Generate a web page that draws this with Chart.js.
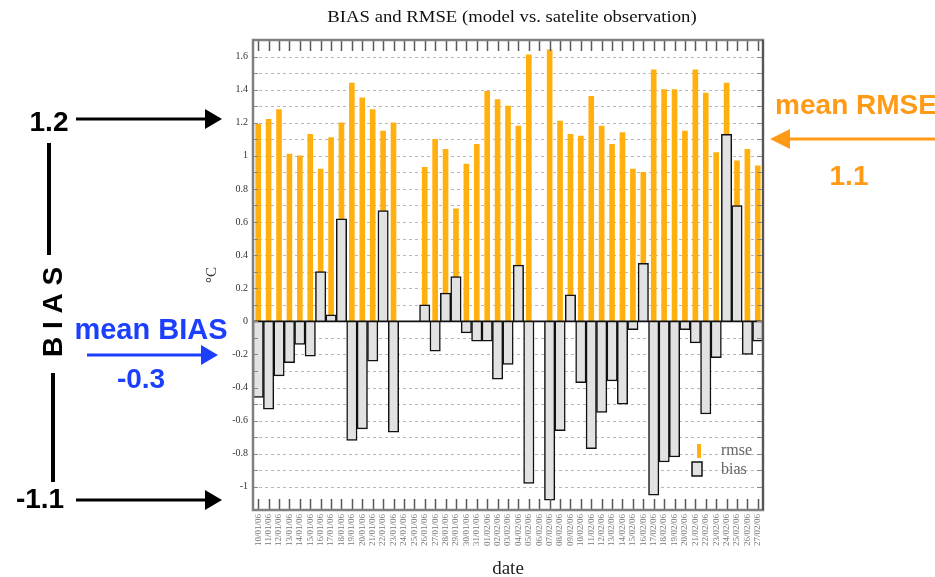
<!DOCTYPE html>
<html><head><meta charset="utf-8">
<script src="https://cdn.jsdelivr.net/npm/chart.js@4.4.0/dist/chart.umd.min.js"></script>
<style>html,body{margin:0;padding:0;background:#fff;}canvas{display:block;}</style>
</head><body>
<canvas id="c" width="935" height="577"></canvas>
<script>
// ---- data ----
const dates = [
 "10/01/06","11/01/06","12/01/06","13/01/06","14/01/06","15/01/06","16/01/06","17/01/06","18/01/06","19/01/06",
 "20/01/06","21/01/06","22/01/06","23/01/06","24/01/06","25/01/06","26/01/06","27/01/06","28/01/06","29/01/06",
 "30/01/06","31/01/06","01/02/06","02/02/06","03/02/06","04/02/06","05/02/06","06/02/06","07/02/06","08/02/06",
 "09/02/06","10/02/06","11/02/06","12/02/06","13/02/06","14/02/06","15/02/06","16/02/06","17/02/06","18/02/06",
 "19/02/06","20/02/06","21/02/06","22/02/06","23/02/06","24/02/06","25/02/06","26/02/06","27/02/06"];
const rmse = [1.19,1.22,1.28,1.01,1.00,1.13,0.92,1.11,1.20,1.44,1.35,1.28,1.15,1.20,null,null,
 0.93,1.10,1.04,0.68,0.95,1.07,1.39,1.34,1.30,1.18,1.61,null,1.64,1.21,1.13,1.12,1.36,1.18,1.07,1.14,
 0.92,0.90,1.52,1.40,1.40,1.15,1.52,1.38,1.02,1.44,0.97,1.04,0.94];
const bias = [-0.46,-0.53,-0.33,-0.25,-0.14,-0.21,0.30,0.04,0.62,-0.72,-0.65,-0.24,0.67,-0.67,null,null,
 0.10,-0.18,0.17,0.27,-0.07,-0.12,-0.12,-0.35,-0.26,0.34,-0.98,null,-1.08,-0.66,0.16,-0.37,-0.77,-0.55,-0.36,-0.50,
 -0.05,0.35,-1.05,-0.85,-0.82,-0.05,-0.13,-0.56,-0.22,1.13,0.70,-0.20,-0.12];
const yMin = -1.14, yMax = 1.7, yStep = 0.1;
const meanBias = "-0.3", meanRmse = "1.1", biasMaxLabel = "1.2", biasMinLabel = "-1.1";
const titleText = "BIAS and RMSE (model vs. satelite observation)";

// ---- styles ----
const ORANGE = '#ffb00f', BLUE = '#1c3ffd', ANN_ORANGE = '#ff9a17';
const SERIF = '"Liberation Serif", "DejaVu Serif", serif';
const SANS = '"Liberation Sans", Arial, sans-serif';

function arrow(ctx, x1, y1, x2, y2, color, lw, hl, hw) {
  const ang = Math.atan2(y2 - y1, x2 - x1);
  const bx = x2 - hl * Math.cos(ang), by = y2 - hl * Math.sin(ang);
  ctx.strokeStyle = color; ctx.fillStyle = color; ctx.lineWidth = lw;
  ctx.beginPath(); ctx.moveTo(x1, y1); ctx.lineTo(bx, by); ctx.stroke();
  ctx.beginPath();
  ctx.moveTo(x2, y2);
  ctx.lineTo(bx + hw * Math.sin(ang), by - hw * Math.cos(ang));
  ctx.lineTo(bx - hw * Math.sin(ang), by + hw * Math.cos(ang));
  ctx.closePath(); ctx.fill();
}

const framePlugin = {
  id: 'frame',
  beforeDatasetsDraw(chart) {
    const {ctx, chartArea: a, scales: {y}} = chart;
    ctx.save();
    ctx.strokeStyle = '#b8b8b8'; ctx.lineWidth = 1; ctx.setLineDash([3, 3]);
    y.ticks.forEach(t => {
      const py = Math.round(y.getPixelForValue(t.value)) + 0.5;
      if (py < a.top + 2 || py > a.bottom - 2) return;
      ctx.beginPath(); ctx.moveTo(a.left, py); ctx.lineTo(a.right, py); ctx.stroke();
    });
    ctx.restore();
  },
  afterDatasetsDraw(chart) {
    const {ctx, chartArea: a, scales: {x, y}} = chart;
    ctx.save();
    // zero line
    const y0 = y.getPixelForValue(0);
    ctx.strokeStyle = '#111'; ctx.lineWidth = 1.6;
    ctx.beginPath(); ctx.moveTo(a.left, y0); ctx.lineTo(a.right, y0); ctx.stroke();
    // category tick marks top & bottom
    ctx.strokeStyle = '#5a5a5a'; ctx.lineWidth = 1.5;
    for (let i = 0; i < dates.length; i++) {
      const px = Math.round(x.getPixelForValue(i)) + 0.5;
      ctx.beginPath();
      ctx.moveTo(px, a.top); ctx.lineTo(px, a.top + 11);
      ctx.moveTo(px, a.bottom); ctx.lineTo(px, a.bottom - 11);
      ctx.stroke();
    }
    // y ticks at left/right inside
    ctx.strokeStyle = '#888'; ctx.lineWidth = 1;
    y.ticks.forEach(t => {
      const py = Math.round(y.getPixelForValue(t.value)) + 0.5;
      ctx.beginPath();
      ctx.moveTo(a.left, py); ctx.lineTo(a.left + 5, py);
      ctx.moveTo(a.right - 6, py); ctx.lineTo(a.right, py);
      ctx.stroke();
    });
    // frame
    ctx.strokeStyle = '#808080'; ctx.lineWidth = 2.5;
    ctx.strokeRect(a.left, a.top, a.right - a.left, a.bottom - a.top);
    ctx.strokeStyle = '#555'; ctx.lineWidth = 2;
    ctx.beginPath(); ctx.moveTo(a.right, a.top); ctx.lineTo(a.right, a.bottom); ctx.stroke();
    // legend
    const lx = a.right - 66, ly = a.bottom - 66;
    ctx.fillStyle = ORANGE; ctx.fillRect(lx, ly, 4, 14);
    ctx.fillStyle = '#e2e2e2'; ctx.fillRect(lx - 5, ly + 18, 10, 14);
    ctx.strokeStyle = '#111'; ctx.lineWidth = 1.5; ctx.strokeRect(lx - 5, ly + 18, 10, 14);
    ctx.fillStyle = '#666'; ctx.font = '16px ' + SERIF; ctx.textBaseline = 'middle'; ctx.textAlign = 'left';
    ctx.fillText(chart.data.datasets[0].label, lx + 24, ly + 7);
    ctx.fillText(chart.data.datasets[1].label, lx + 24, ly + 26);
    ctx.restore();
  },
  afterDraw(chart) {
    const ctx = chart.ctx, a = chart.chartArea;
    ctx.save();
    // chart title centred over the plot
    ctx.textAlign = 'center'; ctx.textBaseline = 'middle';
    ctx.fillStyle = '#111'; ctx.font = '17px ' + SERIF;
    ctx.save(); ctx.translate((a.left + a.right) / 2 + 4, 18); ctx.scale(1.1, 1);
    ctx.fillText(titleText, 0, 0); ctx.restore();

    ctx.font = 'bold 28px ' + SANS;
    // left black annotations
    ctx.fillStyle = '#000';
    ctx.fillText(biasMaxLabel, 49, 123);
    arrow(ctx, 76, 119, 222, 119, '#000', 3, 17, 10);
    ctx.fillText(biasMinLabel, 40, 500);
    arrow(ctx, 76, 500, 222, 500, '#000', 3, 17, 10);
    ctx.fillRect(47, 143, 4, 112);
    ctx.fillRect(51, 373, 4, 109);
    ctx.save(); ctx.translate(54, 312); ctx.rotate(-Math.PI / 2);
    ctx.fillStyle = '#000'; ctx.fillText('B I A S', 0, 0); ctx.restore();
    // blue
    ctx.fillStyle = BLUE;
    ctx.font = 'bold 29px ' + SANS;
    ctx.fillText('mean BIAS', 151, 331);
    arrow(ctx, 87, 355, 218, 355, BLUE, 3, 17, 10);
    ctx.fillStyle = BLUE; ctx.font = 'bold 28px ' + SANS; ctx.fillText(meanBias, 141, 380);
    // orange right
    ctx.fillStyle = ANN_ORANGE;
    ctx.fillText('mean RMSE', 856, 106);
    arrow(ctx, 935, 139, 770, 139, ANN_ORANGE, 3, 20, 10);
    ctx.fillStyle = ANN_ORANGE; ctx.fillText(meanRmse, 849, 177);
    ctx.restore();
  }
};

new Chart(document.getElementById('c'), {
  type: 'bar',
  data: {
    labels: dates,
    datasets: [
      { label: 'rmse', data: rmse, backgroundColor: ORANGE, barThickness: 5, grouped: false, order: 2 },
      { label: 'bias', data: bias, backgroundColor: '#e2e2e2', borderColor: '#111', borderWidth: 1.5,
        barPercentage: 1, categoryPercentage: 1, grouped: false, order: 1 }
    ]
  },
  options: {
    responsive: false, animation: false, devicePixelRatio: 1,
    layout: { padding: { left: 198, right: 172, top: 40, bottom: 0 } },
    plugins: {
      legend: { display: false }, tooltip: { enabled: false }, title: { display: false }
    },
    scales: {
      x: {
        grid: { display: false, drawTicks: false }, border: { display: false },
        ticks: { autoSkip: false, minRotation: 90, maxRotation: 90, padding: 4, color: '#777',
                 font: { family: SERIF, size: 9 } },
        title: { display: true, text: 'date', color: '#222', font: { family: SERIF, size: 19 }, padding: { top: 0, bottom: -3 } },
        afterFit(s) { s.height = 67; }
      },
      y: {
        min: yMin, max: yMax,
        grid: { display: false, drawTicks: false },
        border: { display: false },
        ticks: { stepSize: yStep, padding: 5, color: '#333', font: { family: SERIF, size: 10 },
                 callback(v) { const k = Math.round(v * 10); return (k % 2 === 0) ? String(Number((k / 10).toFixed(1))) : ''; } },
        afterBuildTicks(s) { s.ticks = s.ticks.filter(t => Math.abs(t.value * 10 - Math.round(t.value * 10)) < 1e-6); },
        title: { display: true, text: '°C', color: '#333', font: { family: SERIF, size: 15 }, padding: { top: 5, bottom: 0 } },
        afterFit(s) { s.width = 55; }
      }
    }
  },
  plugins: [framePlugin]
});
</script>
</body></html>
